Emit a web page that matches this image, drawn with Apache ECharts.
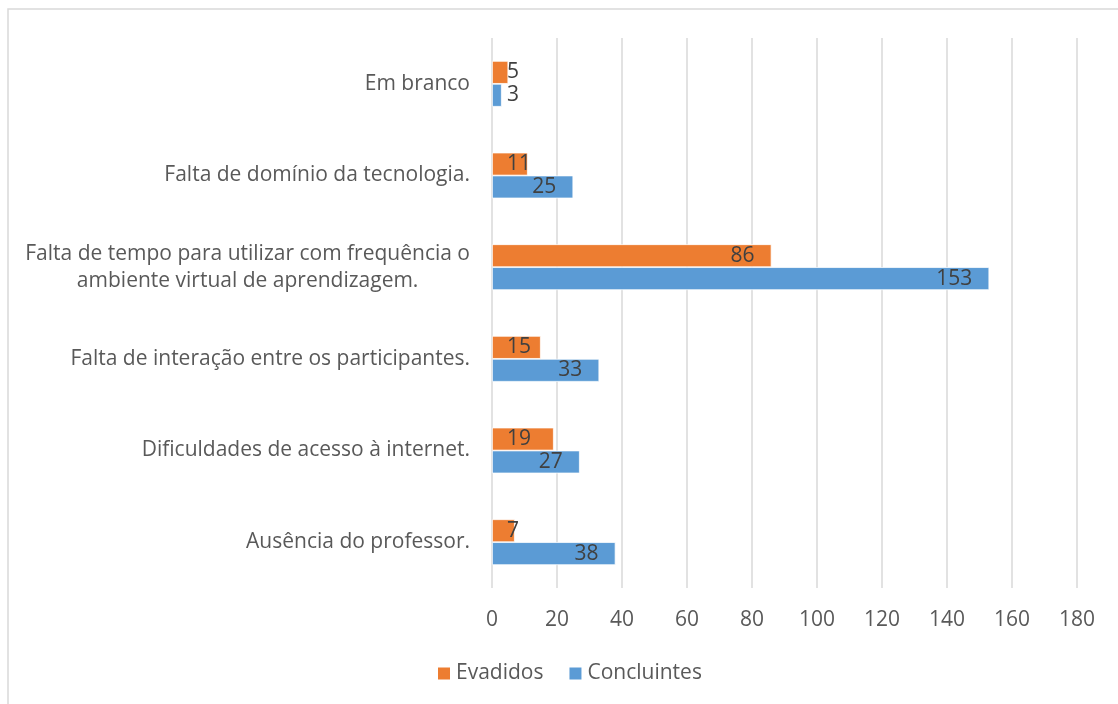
<!DOCTYPE html>
<html>
<head>
<meta charset="utf-8">
<script src="https://cdn.jsdelivr.net/npm/echarts@6/dist/echarts.min.js"></script>
<style>
html,body{margin:0;padding:0;background:#fff;}
#chart{width:1118px;height:704px;}
</style>
</head>
<body>
<div id="chart"></div>
<script>
// Categories listed top to bottom as they appear in the chart
var categories = [
  'Em branco',
  'Falta de domínio da tecnologia.',
  'Falta de tempo para utilizar com frequência o\nambiente virtual de aprendizagem.',
  'Falta de interação entre os participantes.',
  'Dificuldades de acesso à internet.',
  'Ausência do professor.'
];
var evadidos = [5, 11, 86, 15, 19, 7];
var concluintes = [3, 25, 153, 33, 27, 38];
var xTicks = [0, 20, 40, 60, 80, 100, 120, 140, 160, 180];

var FONT = '"Open Sans", Lato, sans-serif';
var FS = 21;

function withLabels(values) {
  return values.map(function (v) {
    var small = v < 20;
    return {
      value: v,
      label: { position: small ? 'insideLeft' : 'insideRight', distance: small ? 15 : 17 }
    };
  });
}

var chart = echarts.init(document.getElementById('chart'), null, { renderer: 'canvas' });
chart.setOption({
  animation: false,
  backgroundColor: '#fff',
  textStyle: { fontFamily: FONT },
  graphic: [{
    type: 'rect',
    shape: { x: 8, y: 9, width: 1200, height: 800 },
    style: { fill: 'none', stroke: '#d9d9d9', lineWidth: 1.5 },
    silent: true
  }],
  grid: { left: 492, right: 41, top: 38, bottom: 116 },
  legend: {
    data: ['Evadidos', 'Concluintes'],
    bottom: 15,
    left: 431,
    itemWidth: 14,
    itemHeight: 14,
    itemGap: 24,
    icon: 'rect',
    textStyle: { color: '#595959', fontSize: FS, fontFamily: FONT }
  },
  xAxis: {
    type: 'value',
    min: xTicks[0],
    max: xTicks[xTicks.length - 1],
    interval: xTicks[1] - xTicks[0],
    axisLine: { show: false },
    axisTick: { show: false },
    axisLabel: { color: '#595959', fontSize: FS, margin: 22, fontFamily: FONT },
    splitLine: { lineStyle: { color: '#d9d9d9', width: 1.5 } }
  },
  yAxis: {
    type: 'category',
    data: categories,
    inverse: true,
    axisLine: { show: false },
    axisTick: { show: false },
    axisLabel: {
      margin: 22,
      formatter: function (v) {
        return v.split('\n').map(function (l) { return '{c|' + l + '}'; }).join('\n');
      },
      rich: {
        c: { color: '#595959', fontSize: FS, lineHeight: 27, align: 'center', fontFamily: FONT }
      }
    }
  },
  series: [
    {
      name: 'Evadidos',
      type: 'bar',
      data: withLabels(evadidos),
      barGap: '0%',
      barCategoryGap: '50%',
      itemStyle: { color: '#ED7D31', borderColor: '#fff', borderWidth: 0.75 },
      label: { show: true, color: '#404040', fontSize: FS, fontFamily: FONT }
    },
    {
      name: 'Concluintes',
      type: 'bar',
      data: withLabels(concluintes),
      barGap: '0%',
      barCategoryGap: '50%',
      itemStyle: { color: '#5B9BD5', borderColor: '#fff', borderWidth: 0.75 },
      label: { show: true, color: '#404040', fontSize: FS, fontFamily: FONT }
    }
  ]
});
</script>
</body>
</html>
